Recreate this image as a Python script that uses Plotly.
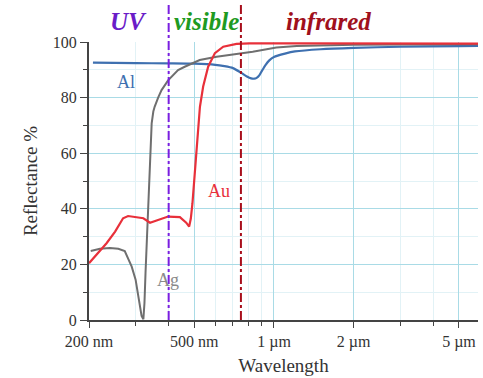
import math
import plotly.graph_objects as go

# Data (wavelength in nm, reflectance in %)
al_wl = [207, 300, 400, 500, 600, 650, 700, 750, 790, 820, 840, 860, 880, 900, 930, 960, 1000, 1100, 1200, 1500, 2000, 3000, 5000, 5900]
al_r = [92.6, 92.4, 92.3, 92.2, 91.8, 91.3, 90.6, 89.0, 87.6, 86.9, 86.8, 87.1, 88.0, 89.6, 91.8, 93.4, 94.6, 95.8, 96.6, 97.4, 97.9, 98.3, 98.5, 98.6]

ag_wl = [203, 220, 240, 258, 273, 290, 300, 311, 316, 321, 324, 327, 334, 340, 345, 350, 354, 365, 376, 398, 434, 460, 524, 607, 743, 831, 1021, 1219, 2000, 5900]
ag_r = [24.8, 25.6, 25.9, 25.6, 24.8, 19.2, 14.5, 4.8, 1.5, 0.3, 6.0, 16.8, 40.8, 58.8, 70.7, 75.0, 76.7, 80.0, 82.7, 86.2, 89.9, 91.1, 93.5, 94.7, 95.9, 96.5, 98.0, 98.6, 99.0, 99.2]

au_wl = [200, 233, 251, 269, 281, 303, 321, 340, 360, 398, 441, 454, 466, 478, 485, 492, 502, 513, 525, 540, 564, 598, 643, 722, 810, 1219, 2000, 5900]
au_r = [20.4, 27.6, 31.8, 36.6, 37.4, 36.9, 36.6, 35.0, 35.7, 37.2, 37.0, 36.0, 35.0, 33.6, 36.5, 42.0, 52.8, 64.7, 76.7, 84.0, 91.1, 96.0, 98.3, 99.3, 99.5, 99.5, 99.5, 99.4]

x_tickvals = [200, 500, 1000, 2000, 5000]
x_ticktext = ["200 nm", "500 nm", "1 µm", "2 µm", "5 µm"]
x_minor = [300, 400, 600, 700, 800, 900, 3000, 4000]
region_lines = [400, 750]
region_colors = ["#7a1ee0", "#a80f1c"]

SERIF = "Liberation Serif, Times New Roman, Times, DejaVu Serif, serif"

fig = go.Figure()
fig.add_trace(go.Scatter(x=al_wl, y=al_r, mode="lines", line=dict(color="#3e70b0", width=2.2, shape="spline", smoothing=0.5), showlegend=False))
fig.add_trace(go.Scatter(x=ag_wl, y=ag_r, mode="lines", line=dict(color="#6f6f6f", width=2, shape="linear"), showlegend=False))
fig.add_trace(go.Scatter(x=au_wl, y=au_r, mode="lines", line=dict(color="#e8303a", width=2.2, shape="linear"), showlegend=False))

for xv, c in zip(region_lines, region_colors):
    fig.add_shape(type="line", xref="x", yref="paper", x0=xv, x1=xv, y0=0, y1=1.135,
                  line=dict(color=c, width=2, dash="dashdot"))

# region labels
for txt, xv, c in [("UV", 282, "#6a1cc8"), ("visible", 555, "#1e9a22"), ("infrared", 1610, "#a0101c")]:
    fig.add_annotation(x=math.log10(xv), y=1.075, xref="x", yref="paper", text="<b><i>" + txt + "</i></b>",
                       showarrow=False, font=dict(family=SERIF, size=25, color=c), yanchor="middle")

# curve labels
for txt, xv, yv, c in [("Al", 275, 85.5, "#3e70b0"), ("Au", 622, 46.5, "#e8303a"), ("Ag", 396, 14.5, "#8a8a8a")]:
    fig.add_annotation(x=math.log10(xv), y=yv, xref="x", yref="y", text=txt, showarrow=False,
                       font=dict(family=SERIF, size=18, color=c))

fig.add_annotation(x=0.0, y=1.15, xref="paper", yref="paper", text="<b>g</b>", showarrow=False,
                   xanchor="left", yanchor="bottom", xshift=-75, yshift=8,
                   font=dict(family="Liberation Sans, Arial, sans-serif", size=22, color="#111111"))

fig.update_layout(
    width=483, height=378,
    margin=dict(l=89, r=5, t=42, b=58),
    paper_bgcolor="white", plot_bgcolor="white",
    font=dict(family=SERIF, size=16, color="#333333"),
    xaxis=dict(type="log", range=[math.log10(200), math.log10(5900)],
               tickvals=x_tickvals, ticktext=x_ticktext, ticks="outside", ticklen=6, tickcolor="#444444",
               showline=True, linecolor="#444444", linewidth=2, showgrid=True, gridcolor="#a9dbe6", gridwidth=1,
               zeroline=False, tickfont=dict(family=SERIF, size=16, color="#333333"),
               minor=dict(tickvals=x_minor, ticks="outside", ticklen=4, tickcolor="#444444", showgrid=True, gridcolor="#e2f2f6"),
               title=dict(text="Wavelength", font=dict(family=SERIF, size=19, color="#333333"), standoff=8)),
    yaxis=dict(range=[0, 100], tickvals=[0, 20, 40, 60, 80, 100], ticks="outside", ticklen=7, tickcolor="#444444",
               showline=True, linecolor="#444444", linewidth=2, showgrid=True, gridcolor="#a9dbe6", gridwidth=1,
               zeroline=False, tickfont=dict(family=SERIF, size=16, color="#333333"),
               minor=dict(tickvals=[10, 30, 50, 70, 90], ticks="outside", ticklen=4, tickcolor="#444444", showgrid=True, gridcolor="#e2f2f6"),
               title=dict(text="Reflectance %", font=dict(family=SERIF, size=19, color="#333333"), standoff=10)),
)

fig.write_html("out.html")
